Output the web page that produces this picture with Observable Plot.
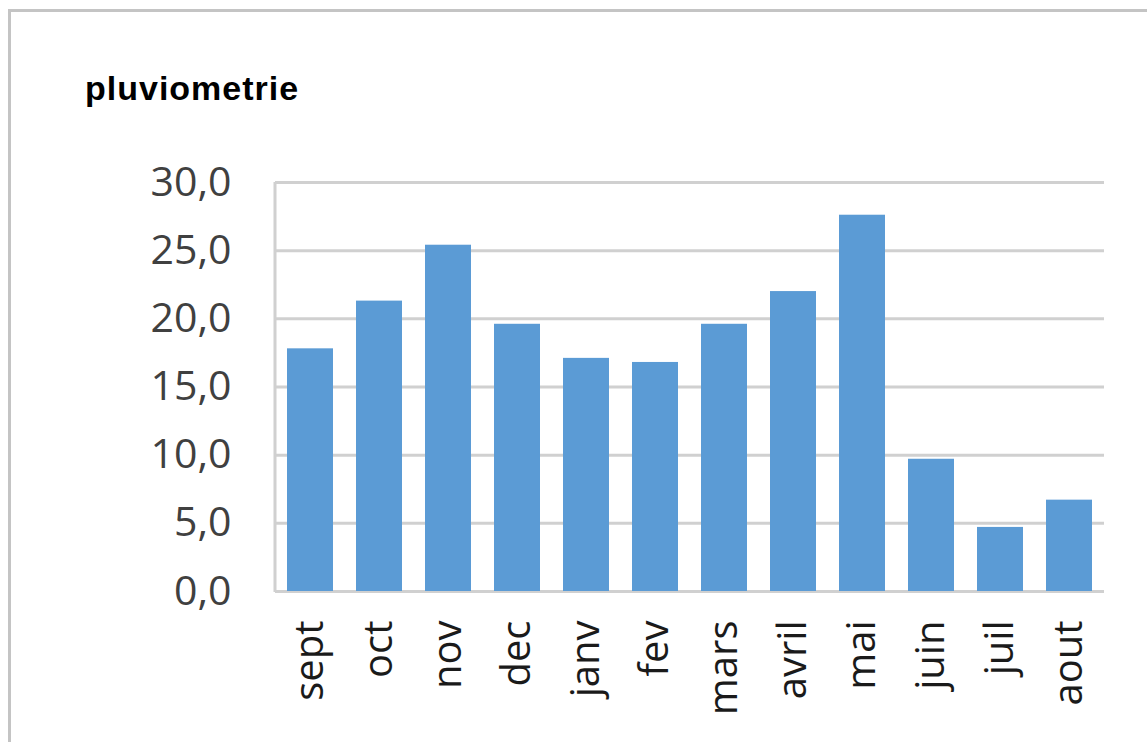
<!DOCTYPE html>
<html>
<head>
<meta charset="utf-8">
<script src="https://cdn.jsdelivr.net/npm/d3@7"></script>
<script src="https://cdn.jsdelivr.net/npm/@observablehq/plot@0.6"></script>
<style>
  html, body { margin: 0; padding: 0; background: #fff; width: 1147px; height: 742px; overflow: hidden; }
  #frame { position: absolute; left: 8px; top: 9px; width: 1200px; height: 800px; border: 3px solid #c4c4c4; box-sizing: border-box; }
  #title { position: absolute; left: 85px; top: 71px; font-family: "Liberation Sans", Arial, sans-serif; font-weight: bold; font-size: 34px; letter-spacing: 1px; color: #000; line-height: 1; }
  #chart { position: absolute; left: 0; top: 0; }
</style>
</head>
<body>
<div id="frame"></div>
<div id="title">pluviometrie</div>
<div id="chart"></div>
<script>
const months = ["sept", "oct", "nov", "dec", "janv", "fev", "mars", "avril", "mai", "juin", "juil", "aout"];
const rainfall = [17.8, 21.3, 25.4, 19.6, 17.1, 16.8, 19.6, 22.0, 27.6, 9.7, 4.7, 6.7];
const yTicks = [0, 5, 10, 15, 20, 25, 30];

const data = months.map((m, i) => ({month: m, value: rainfall[i]}));
const fmt = d => d.toFixed(1).replace(".", ",");

const plot = Plot.plot({
  width: 1147,
  height: 742,
  marginLeft: 275,
  marginRight: 43,
  marginTop: 182,
  marginBottom: 151,
  style: {background: "transparent", fontFamily: "'Open Sans', sans-serif"},
  x: {domain: months, paddingInner: 0.34, paddingOuter: 0.17, label: null},
  y: {domain: [0, 30], label: null},
  marks: [
    Plot.ruleY(yTicks, {stroke: "#d0d0d0", strokeWidth: 3}),
    Plot.barY(data, {x: "month", y: "value", fill: "#5b9bd5"}),
    Plot.axisY(yTicks, {tickSize: 0, tickPadding: 44, tickFormat: fmt, fontSize: 41, fill: "#404040", label: null}),
    Plot.axisX({tickSize: 0, tickPadding: 29, tickRotate: -90, fontSize: 40, fill: "#1a1a1a", label: null})
  ]
});
document.getElementById("chart").appendChild(plot);

// vertical axis line at the left edge of the plot frame
const svg = d3.select(plot);
svg.append("line")
  .attr("x1", 275).attr("x2", 275)
  .attr("y1", 182).attr("y2", 592)
  .attr("stroke", "#d0d0d0").attr("stroke-width", 3);
</script>
</body>
</html>
